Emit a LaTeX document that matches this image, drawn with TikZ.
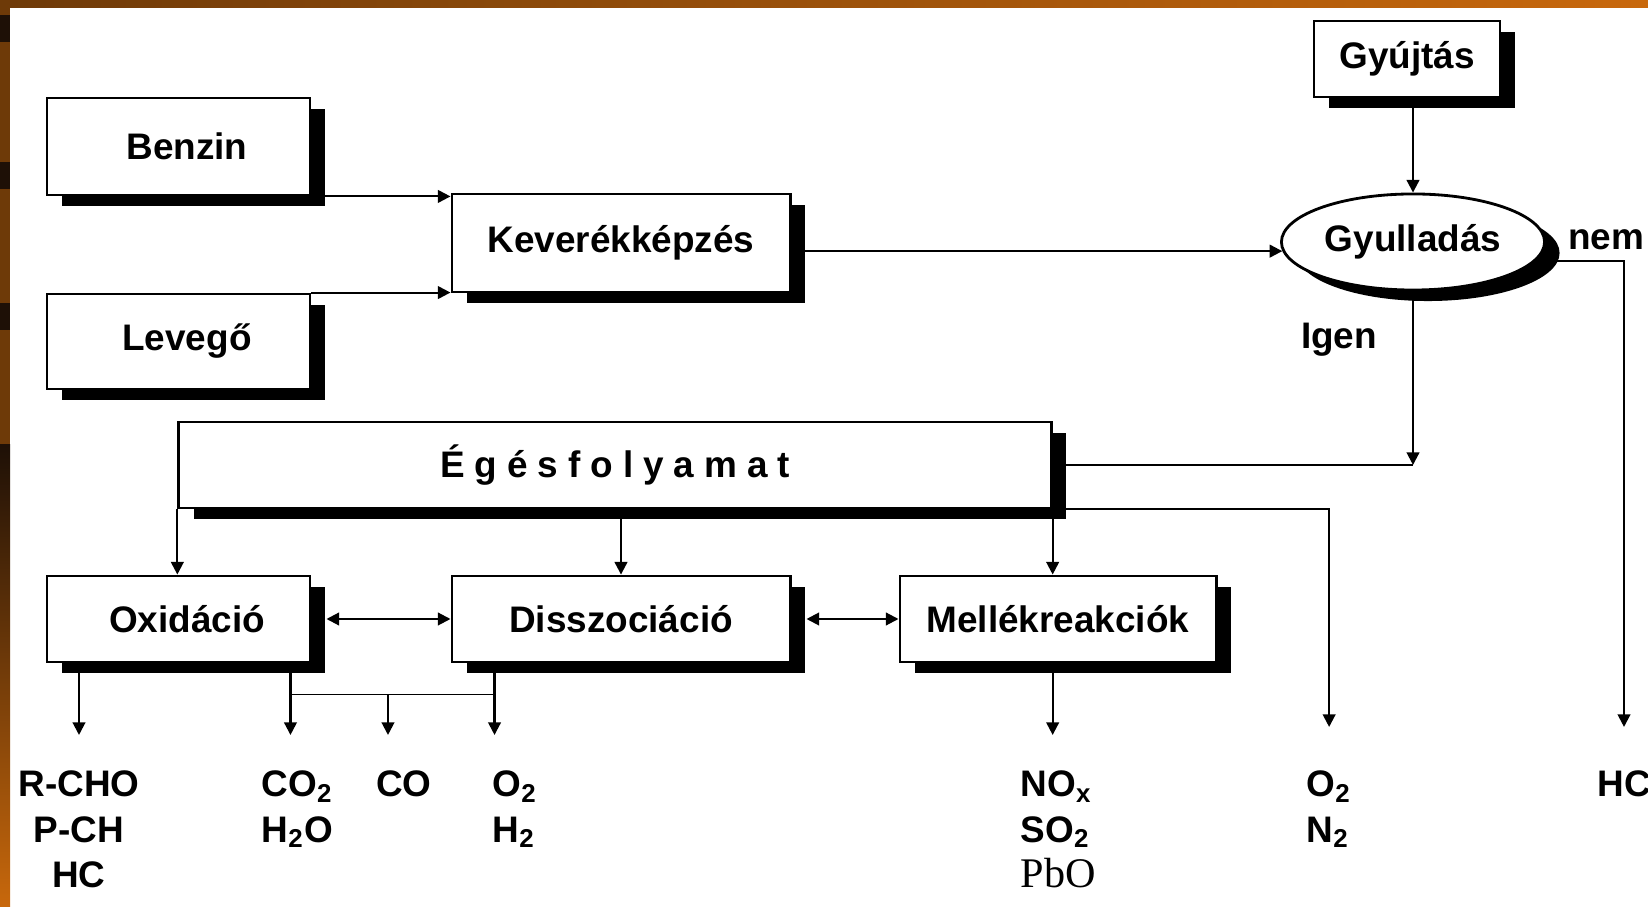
\documentclass[tikz,border=0pt]{standalone}
\usepackage{fontspec}
\setmainfont{Liberation Sans}
\newfontfamily\serifpb{Liberation Serif}
\newfontfamily\spaced[LetterSpace=27]{Liberation Sans}
\usetikzlibrary{shapes,arrows.meta,positioning,shadows}

\definecolor{framebrown}{HTML}{6E3A08}
\definecolor{frameorange}{HTML}{C8680C}
\definecolor{framedark}{HTML}{1E1006}

\begin{document}
\begin{tikzpicture}[
    x=0.01cm, y=-0.01cm,
    proc/.style={
        rectangle,
        draw=black,
        fill=white,
        line width=0.8pt,
        minimum width=2.63cm,
        minimum height=0.86cm,
        inner sep=0pt,
        font=\bfseries\fontsize{10.5}{13}\selectfont,
        general shadow={fill=black, shadow xshift=0.15cm, shadow yshift=-0.11cm}
    },
    leftproc/.style={proc, execute at begin node={\hspace*{0.17cm}}},
    lab/.style={inner sep=0pt, font=\bfseries\fontsize{10.5}{13}\selectfont},
    prod/.style={lab, anchor=north, align=center},
    arr/.style={-{Triangle[length=3.6pt,width=3.6pt]}, line width=0.6pt},
    twoway/.style={{Triangle[length=3.6pt,width=3.6pt]}-{Triangle[length=3.6pt,width=3.6pt]}, line width=0.6pt}
]

    % Slide frame
    \useasboundingbox (0,0) rectangle (1648,907);
    \shade[left color=framebrown, right color=frameorange] (0,0) rectangle (1648,8);
    \fill[framebrown] (0,0) rectangle (10,445);
    \shade[top color=framedark, bottom color=frameorange] (0,445) rectangle (10,907);
    \foreach \y in {15,162,303}
        \fill[framedark] (0,\y) rectangle (10,\y+27);

    % Inputs and mixture formation
    \node[leftproc, minimum height=0.97cm] (benzin) at (178.5,146.5) {Benzin};
    \node[leftproc, minimum height=0.95cm] (levego) at (178.5,341.5) {Levegő};
    \node[proc, minimum width=3.38cm, minimum height=0.98cm] (keverek) at (621,243) {Keverékképzés};

    % Ignition and the decision
    \node[proc, minimum width=1.86cm, minimum height=0.76cm] (gyujtas) at (1407,59) {Gyújtás};
    \node[proc, ellipse, minimum width=2.63cm, minimum height=0.96cm] (gyulladas) at (1413,242) {Gyulladás};
    \node[lab] (igen) at (1339,340) {Igen};
    \node[lab] (nem) at (1606,240) {nem};

    % Combustion and its reactions
    \node[proc, minimum width=8.72cm] (eges) at (615,465) {\spaced Égésfolyamat};
    \node[leftproc] (oxidacio) at (178.5,619) {Oxidáció};
    \node[proc, minimum width=3.38cm] (disszociacio) at (621,619) {Disszociáció};
    \node[proc, minimum width=3.16cm] (mellek) at (1058,619) {Mellékreakciók};

    % Products
    \node[prod] (rcho) at (79,770) {R-CHO\\P-CH\\HC};
    \node[prod, anchor=north west, align=left] (co2) at (261,770) {CO\textsubscript{2}\\H\textsubscript{2}O};
    \node[prod] (co) at (404,770) {CO};
    \node[prod, anchor=north west, align=left] (o2h2) at (492,770) {O\textsubscript{2}\\H\textsubscript{2}};
    \node[prod, anchor=north west, align=left] (nox) at (1020,770)
        {NO\textsubscript{x}\\SO\textsubscript{2}\\{\serifpb\mdseries\fontsize{12}{13}\selectfont PbO}};
    \node[prod, anchor=north west, align=left] (o2n2) at (1306,770) {O\textsubscript{2}\\N\textsubscript{2}};
    \node[prod] (hc) at (1624,770) {HC};

    % Upper connections
    \draw[arr] (benzin.south east) -- (benzin.south east -| keverek.west);
    \draw[arr] (levego.north east) -- (levego.north east -| keverek.west);
    \draw[arr] (keverek.east |- gyulladas.184) -- (gyulladas.184);
    \draw[arr] (gyujtas.south -| gyulladas.north) -- (gyulladas.north);
    \draw[arr] (gyulladas.south) -- (gyulladas.south |- eges.east);
    \draw (eges.east) -- (gyulladas.south |- eges.east);
    \draw[arr, shorten >=0.43cm] (gyulladas.-9) -| (hc.north);
    \draw[arr, shorten >=0.43cm] (eges.south east) -| (o2n2.north);

    % From combustion to the reactions
    \draw[arr] (eges.south west) -- (eges.south west |- oxidacio.north);
    \draw[arr] (eges.south -| disszociacio.north) -- (disszociacio.north);
    \draw[arr] (eges.south east) -- (eges.south east |- mellek.north);
    \draw[twoway] ([xshift=0.15cm]oxidacio.east) -- (disszociacio.west);
    \draw[twoway] ([xshift=0.15cm]disszociacio.east) -- (mellek.west);

    % Down to the products
    \coordinate (oxout) at ([xshift=-0.21cm]oxidacio.south east);
    \coordinate (disout) at ([xshift=0.44cm]disszociacio.south west);
    \coordinate (bus) at ([yshift=-0.31cm]oxout);
    \coordinate (coin) at ([xshift=-0.16cm]co.north);
    \draw[arr, shorten >=0.35cm] (oxidacio.south -| rcho.north) -- (rcho.north);
    \draw[arr, shorten >=0.35cm] (oxout) -- (oxout |- co2.north);
    \draw (bus) -- (bus -| disout);
    \draw[arr, shorten >=0.35cm] (bus -| coin) -- (coin);
    \draw[arr, shorten >=0.35cm] (disout) -- (disout |- o2h2.north);
    \draw[arr, shorten >=0.35cm] (eges.south east |- mellek.south) -- (eges.south east |- nox.north);

\end{tikzpicture}
\end{document}
